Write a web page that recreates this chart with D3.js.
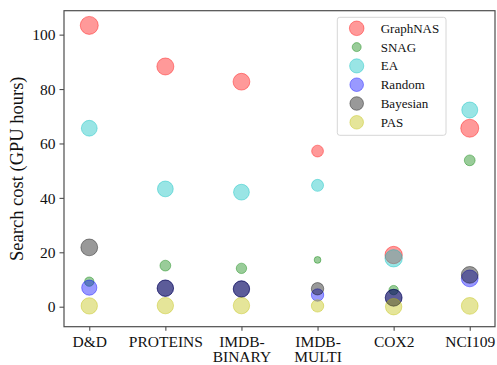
<!DOCTYPE html>
<html lang="en">
<head>
    <meta charset="UTF-8">
    <title>Search cost</title>
    <script src="https://d3js.org/d3.v7.min.js"></script>
    <style>
        body { margin: 0; background: #fff; }
        svg text { font-family: "Liberation Serif", "DejaVu Serif", serif !important; fill: #111; }
    </style>
</head>
<body>
    <div id="chart"></div>
    <script>
        // datasets along the x axis (split after the dash onto a second line)
        var datasets = ["D&D", "PROTEINS", "IMDB-BINARY", "IMDB-MULTI", "COX2", "NCI109"];
        var methods = ["GraphNAS", "SNAG", "EA", "Random", "Bayesian", "PAS"];
        var colors = ["#ff0000", "#008000", "#00bfbf", "#0000ff", "#000000", "#bfbf00"];

        // search cost in GPU hours
        var graphnas = [103.4, 88.3, 82.7, 57.2, 19.0, 65.6];
        var snag     = [9.2, 15.1, 14.1, 17.2, 6.1, 53.8];
        var ea       = [65.6, 43.3, 42.1, 44.6, 17.8, 72.3];
        var random   = [7.0, 6.8, 6.5, 4.3, 3.3, 10.4];
        var bayesian = [21.8, 6.8, 6.5, 6.6, 3.3, 11.7];
        var pas      = [0.3, 0.4, 0.4, 0.3, 0.0, 0.3];

        // marker radius for every point (px)
        var graphnasR = [9.0, 8.5, 8.4, 5.9, 8.7, 9.0];
        var snagR     = [4.7, 5.4, 5.2, 3.4, 4.7, 5.4];
        var eaR       = [7.9, 7.9, 7.9, 6.0, 8.7, 8.0];
        var randomR   = [7.6, 8.2, 8.2, 6.2, 8.4, 8.4];
        var bayesianR = [8.4, 8.2, 8.2, 6.2, 8.4, 8.4];
        var pasR      = [8.2, 8.2, 8.2, 6.2, 8.2, 8.4];
        var legendR   = [7.3, 4.5, 7.1, 6.8, 6.8, 6.8];

        var yTicks = [0, 20, 40, 60, 80, 100];

        var series = [
            {name: methods[0], values: graphnas, r: graphnasR, color: colors[0]},
            {name: methods[1], values: snag, r: snagR, color: colors[1]},
            {name: methods[2], values: ea, r: eaR, color: colors[2]},
            {name: methods[3], values: random, r: randomR, color: colors[3]},
            {name: methods[4], values: bayesian, r: bayesianR, color: colors[4]},
            {name: methods[5], values: pas, r: pasR, color: colors[5]}
        ];

        var W = 497, H = 365;
        var margin = {top: 10.7, right: 2, bottom: 38.3, left: 64};
        var serif = '"Liberation Serif", "DejaVu Serif", serif';

        var svg = d3.select("#chart").append("svg")
            .attr("width", W)
            .attr("height", H);

        var x = d3.scalePoint()
            .domain(datasets)
            .range([margin.left, W - margin.right])
            .padding(0.332);

        var y = d3.scaleLinear()
            .domain([-7.35, 108.8])
            .range([H - margin.bottom, margin.top]);

        // points, drawn series by series like matplotlib does
        series.forEach(function(s) {
            svg.append("g").selectAll("circle")
                .data(s.values)
                .enter().append("circle")
                .attr("cx", (d, i) => x(datasets[i]))
                .attr("cy", d => y(d))
                .attr("r", (d, i) => s.r[i])
                .attr("fill", s.color)
                .attr("fill-opacity", 0.4)
                .attr("stroke", s.color)
                .attr("stroke-opacity", 0.4)
                .attr("stroke-width", 1);
        });

        // frame
        svg.append("rect")
            .attr("x", margin.left)
            .attr("y", margin.top)
            .attr("width", W - margin.left - margin.right)
            .attr("height", H - margin.top - margin.bottom)
            .attr("fill", "none")
            .attr("stroke", "#4d4d4d")
            .attr("stroke-width", 1.2);

        // x axis with two-line labels
        var xAxis = svg.append("g")
            .attr("transform", "translate(0," + (H - margin.bottom) + ")")
            .call(d3.axisBottom(x).tickSize(4).tickPadding(4).tickFormat(""));
        xAxis.attr("font-family", serif);
        xAxis.select(".domain").remove();
        xAxis.selectAll(".tick line").attr("stroke", "#4d4d4d").attr("stroke-width", 1.1);
        xAxis.selectAll(".tick").each(function(d) {
            var parts = d.indexOf("-") > 0 ? [d.split("-")[0] + "-", d.split("-")[1]] : [d];
            var t = d3.select(this).append("text")
                .attr("text-anchor", "middle")
                .style("font-family", serif)
                .style("font-size", "15.5px");
            parts.forEach(function(p, k) {
                t.append("tspan").attr("x", 0).attr("y", 20 + k * 15.6).text(p);
            });
        });

        // y axis
        var yAxis = svg.append("g")
            .attr("transform", "translate(" + margin.left + ",0)")
            .call(d3.axisLeft(y).tickValues(yTicks).tickSize(4.5).tickPadding(4));
        yAxis.attr("font-family", serif);
        yAxis.select(".domain").remove();
        yAxis.selectAll(".tick line").attr("stroke", "#4d4d4d").attr("stroke-width", 1.1);
        yAxis.selectAll(".tick text")
            .style("font-family", serif)
            .style("font-size", "15.5px")
            .attr("dy", "0.34em");

        svg.append("text")
            .attr("transform", "translate(17," + ((margin.top + H - margin.bottom) / 2) + ") rotate(-90)")
            .attr("text-anchor", "middle")
            .attr("dy", "0.35em")
            .style("font-family", serif)
            .style("font-size", "18.5px")
            .text("Search cost (GPU hours)");

        // legend
        var lg = svg.append("g").attr("transform", "translate(337.3,17.3)");
        lg.append("rect")
            .attr("width", 108.7)
            .attr("height", 118)
            .attr("rx", 2.5)
            .attr("fill", "#fff")
            .attr("fill-opacity", 0.8)
            .attr("stroke", "#d6d6d6")
            .attr("stroke-width", 1);
        series.forEach(function(s, i) {
            var row = lg.append("g").attr("transform", "translate(0," + (11 + i * 18.8) + ")");
            row.append("circle")
                .attr("cx", 19.4)
                .attr("r", legendR[i])
                .attr("fill", s.color)
                .attr("fill-opacity", 0.4)
                .attr("stroke", s.color)
                .attr("stroke-opacity", 0.4);
            row.append("text")
                .attr("x", 43.4)
                .attr("dy", "0.35em")
                .style("font-family", serif)
                .style("font-size", "13px")
                .text(s.name);
        });
    </script>
</body>
</html>
